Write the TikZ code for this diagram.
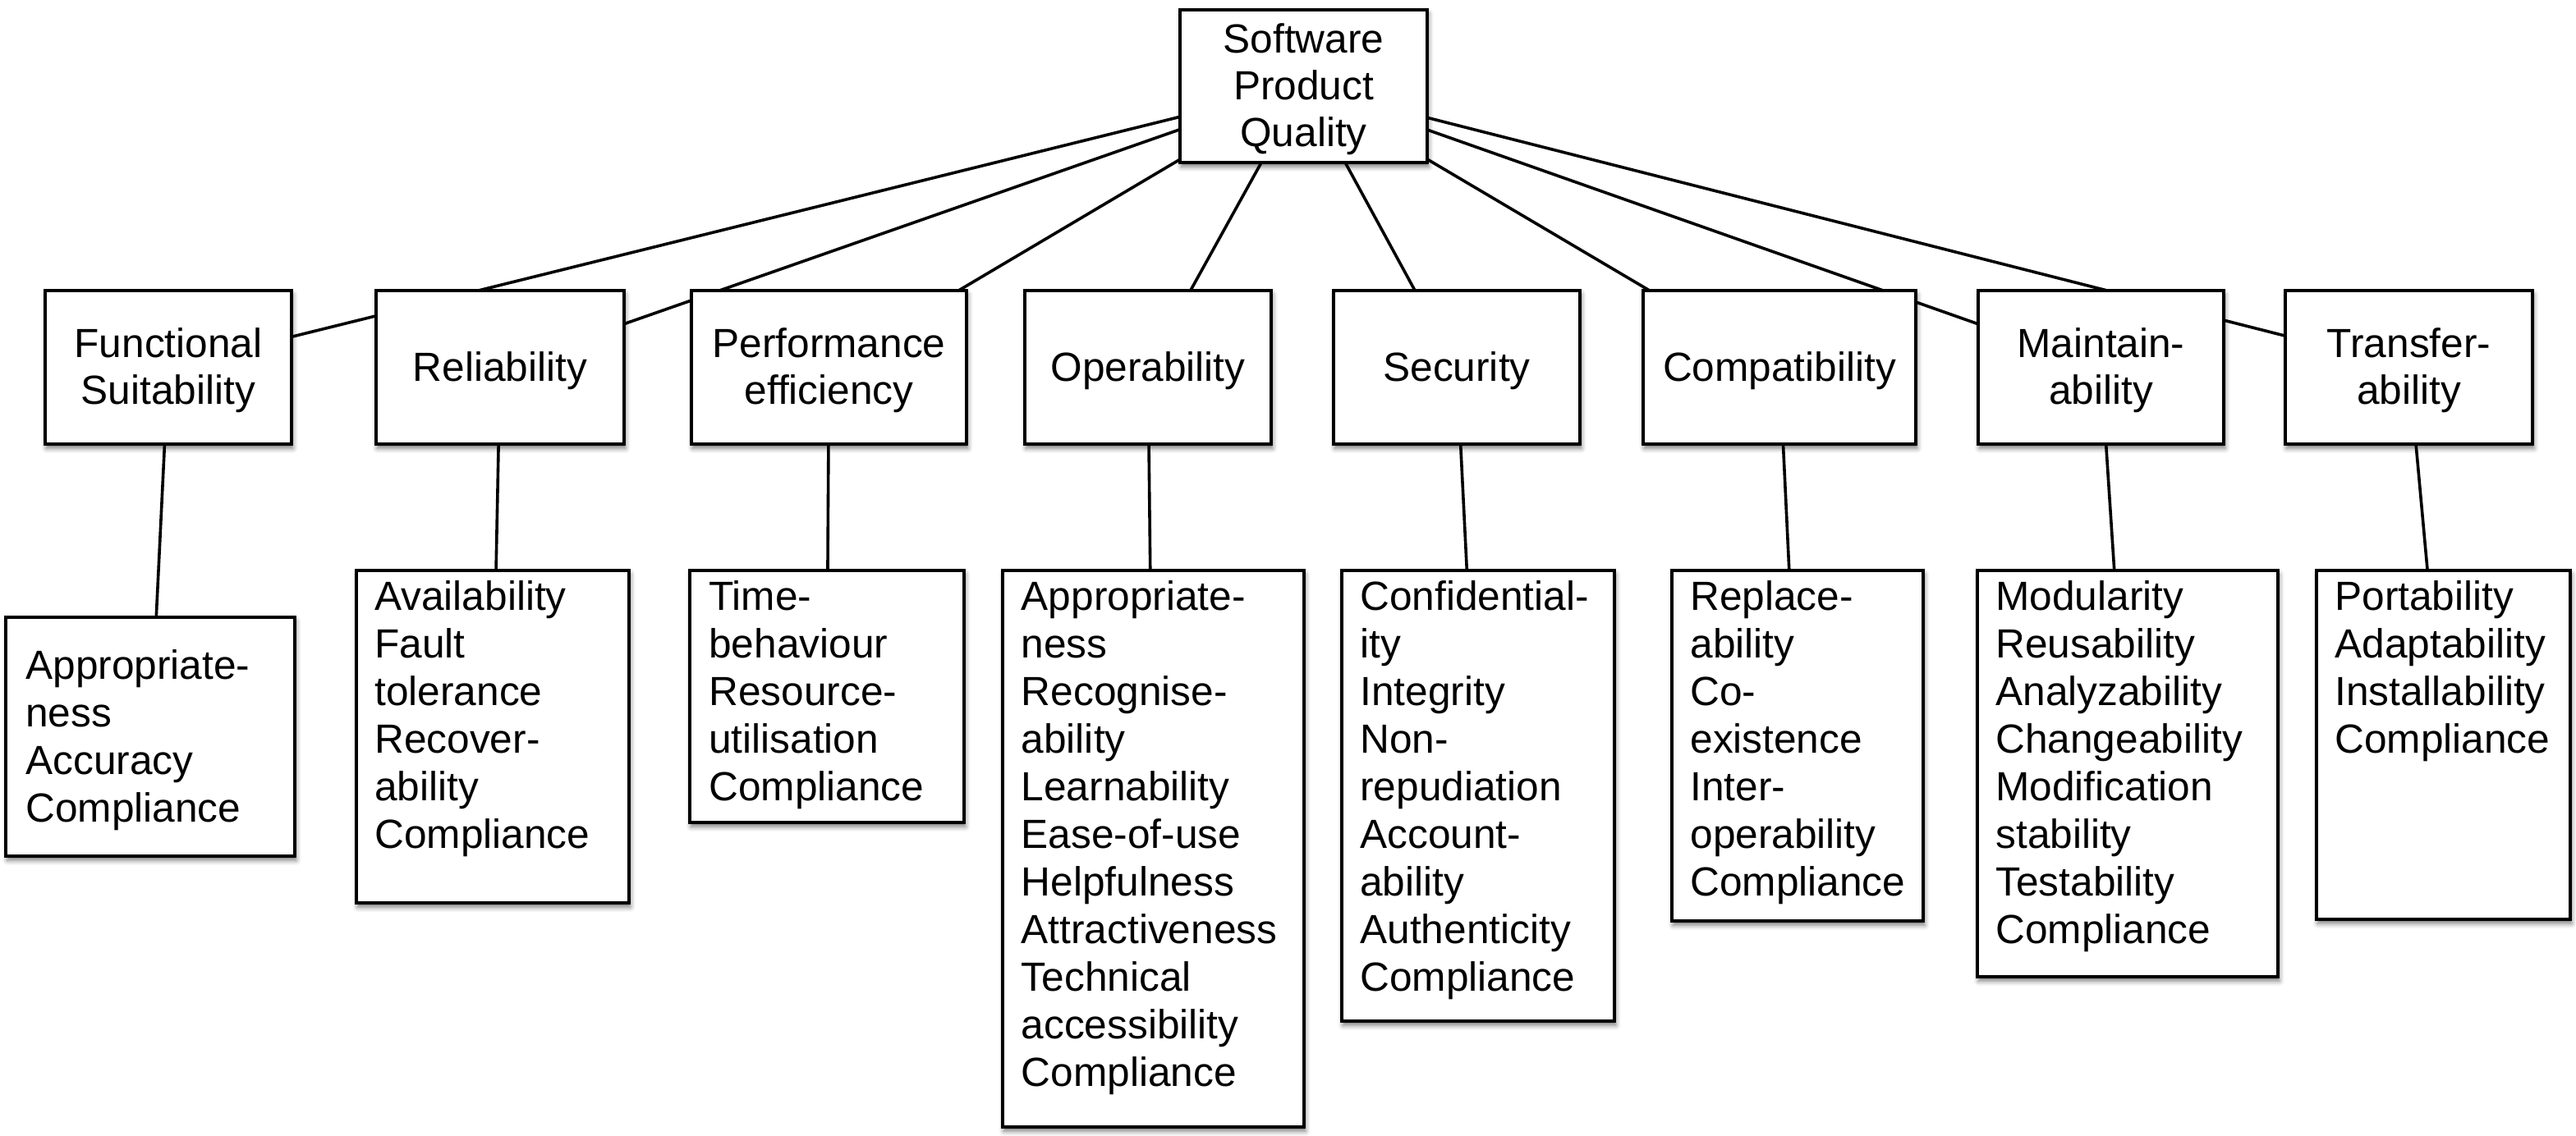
\documentclass[tikz,border=0pt]{standalone}
\usepackage{fontspec}
\setmainfont{Liberation Sans}
\usetikzlibrary{backgrounds,shadows.blur}
\newcommand{\itemlist}[1]{\begin{tabular}[t]{@{}l@{}}#1\end{tabular}}
\begin{document}
\begin{tikzpicture}[x=1pt,y=-1pt,
  box/.style={draw=black, line width=2pt, fill=white, inner sep=0pt,
    blur shadow={shadow xshift=0.8pt, shadow yshift=-2.5pt, shadow blur radius=3pt, shadow opacity=55}},
  lbl/.style={font=\fontsize{24.8}{28.5}\selectfont, align=center, inner sep=0pt},
  itemtext/.style={font=\fontsize{24.8}{29}\selectfont, inner sep=0pt, anchor=base west},
  link/.style={line width=1.8pt, draw=black}]
\path[use as bounding box] (0,0) rectangle (1568.5,691.5);

% root
\node[box, minimum width=150.5pt, minimum height=93pt] (root) at (793.75,52.5) {};
\node[lbl] (rootT) at ([yshift=-2pt]root.center) {Software\\Product\\Quality};

% level 2
\node[box, minimum width=150pt, minimum height=93.5pt] (fs) at (102.5,223.75) {};
\node[box, minimum width=151pt, minimum height=93.5pt] (rel) at (304.5,223.75) {};
\node[box, minimum width=167.5pt, minimum height=93.5pt] (perf) at (504.75,223.75) {};
\node[box, minimum width=150pt, minimum height=93.5pt] (oper) at (699,223.75) {};
\node[box, minimum width=150pt, minimum height=93.5pt] (sec) at (887,223.75) {};
\node[box, minimum width=166pt, minimum height=93.5pt] (comp) at (1083.5,223.75) {};
\node[box, minimum width=149.5pt, minimum height=93.5pt] (maint) at (1279.25,223.75) {};
\node[box, minimum width=150.5pt, minimum height=93.5pt] (trans) at (1466.75,223.75) {};
\node[lbl] (fsT2) at ([yshift=-2pt]fs.center) {Functional\\Suitability};
\node[lbl] (relT2) at ([yshift=-2pt]rel.center) {Reliability};
\node[lbl] (perfT2) at ([yshift=-2pt]perf.center) {Performance\\efficiency};
\node[lbl] (operT2) at ([yshift=-2pt]oper.center) {Operability};
\node[lbl] (secT2) at ([yshift=-2pt]sec.center) {Security};
\node[lbl] (compT2) at ([yshift=-2pt]comp.center) {Compatibility};
\node[lbl] (maintT2) at ([yshift=-2pt]maint.center) {Maintain-\\ability};
\node[lbl] (transT2) at ([yshift=-2pt]trans.center) {Transfer-\\ability};

% level 3 boxes
\node[box, minimum width=175.8pt, minimum height=145.5pt] (fsL) at (91.6,448.75) {};
\node[box, minimum width=166pt, minimum height=202.5pt] (relL) at (300,448.75) {};
\node[box, minimum width=167pt, minimum height=153.5pt] (perfL) at (503.5,424.25) {};
\node[box, minimum width=183.5pt, minimum height=339pt] (operL) at (702.25,517) {};
\node[box, minimum width=166pt, minimum height=274.5pt] (secL) at (900,484.75) {};
\node[box, minimum width=153pt, minimum height=213.5pt] (compL) at (1094.5,454.25) {};
\node[box, minimum width=183pt, minimum height=247.5pt] (maintL) at (1295.5,471.25) {};
\node[box, minimum width=154.5pt, minimum height=212.5pt] (transL) at (1487.75,453.75) {};

% level 3 texts
\node[itemtext] (fsT) at (15.5,413.5) {\itemlist{Appropriate-\\ness\\Accuracy\\Compliance}};
\node[itemtext] (relT) at (228,371.5) {\itemlist{Availability\\Fault\\tolerance\\Recover-\\ability\\Compliance}};
\node[itemtext] (perfT) at (431.5,371.5) {\itemlist{Time-\\behaviour\\Resource-\\utilisation\\Compliance}};
\node[itemtext] (operT) at (621.7,371.5) {\itemlist{Appropriate-\\ness\\Recognise-\\ability\\Learnability\\Ease-of-use\\Helpfulness\\Attractiveness\\Technical\\accessibility\\Compliance}};
\node[itemtext] (secT) at (828,371.5) {\itemlist{Confidential-\\ity\\Integrity\\Non-\\repudiation\\Account-\\ability\\Authenticity\\Compliance}};
\node[itemtext] (compT) at (1029,371.5) {\itemlist{Replace-\\ability\\Co-\\existence\\Inter-\\operability\\Compliance}};
\node[itemtext] (maintT) at (1215,371.5) {\itemlist{Modularity\\Reusability\\Analyzability\\Changeability\\Modification\\stability\\Testability\\Compliance}};
\node[itemtext] (transT) at (1421.5,371.5) {\itemlist{Portability\\Adaptability\\Installability\\Compliance}};

% connectors (behind boxes)
\begin{pgfonlayer}{background}
\foreach \c in {fs,rel,perf,oper,sec,comp,maint,trans}{
  \draw[link] (root.center) -- (\c.center);
  \draw[link] (\c.center) -- (\c L.center);
}
\end{pgfonlayer}
\end{tikzpicture}
\end{document}
